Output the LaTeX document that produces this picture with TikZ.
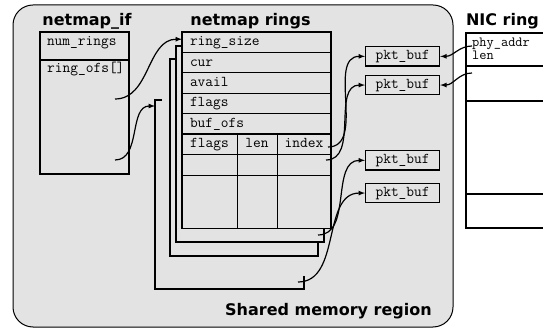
\documentclass[tikz,border=0pt]{standalone}
\usepackage{fontspec}
\newfontfamily\titlefont{DejaVu Sans}
\usepackage{xcolor}
\usepackage{tikz}
\usetikzlibrary{calc}
\usetikzlibrary{positioning}
\definecolor{shmgray}{HTML}{E3E3E3}

\begin{document}
\begin{tikzpicture}[x=1pt,y=-1pt]
		\tikzstyle{region} = [draw, line width=1pt, fill=shmgray, rounded corners=20pt, minimum width=440pt, minimum height=322pt, inner sep=0pt, outer sep=0pt]
		\tikzstyle{heading} = [font=\titlefont\bfseries\fontsize{16}{19}\selectfont, inner sep=0pt, anchor=base]
		\tikzstyle{ifbox} = [draw, line width=1.2pt, text width=75pt, inner xsep=7pt, inner ysep=0pt, outer sep=0pt, align=left, font=\ttfamily\fontsize{15}{17}\selectfont]
		\tikzstyle{field} = [draw, line width=1.2pt, minimum height=20.4pt, text width=133pt, inner xsep=8pt, inner ysep=0pt, outer sep=0pt, align=left, text height=10pt, text depth=3pt, font=\ttfamily\fontsize{15}{17}\selectfont]
		\tikzstyle{slot} = [draw, line width=0.7pt, inner sep=0pt, outer sep=0pt, text height=10pt, text depth=3pt, font=\ttfamily\fontsize{15}{17}\selectfont]
		\tikzstyle{ringback} = [draw, line width=1.2pt]
		\tikzstyle{pktbuf} = [draw, line width=1.2pt, minimum width=74pt, minimum height=19.5pt, inner sep=0pt, text height=10pt, text depth=3pt, font=\ttfamily\fontsize{15}{17}\selectfont]
		\tikzstyle{nicslot} = [draw, line width=1.2pt, minimum width=100pt, inner sep=0pt, outer sep=0pt]
		\tikzstyle{link} = [draw, line width=1.2pt, -latex]

		\useasboundingbox (0,0) rectangle (543,328);

		\node[region, anchor=north west] (Shared) at (13,5) {};
		\node[heading, anchor=base east] (SharedLabel) at (432,316) {Shared memory region};

		\node[heading] (IfTitle) at (87,26) {netmap\_if};
		\node[ifbox, minimum height=28pt, text height=7pt, text depth=8pt, anchor=north west] (NumRings) at (40,32) {num\_rings};
		\node[ifbox, minimum height=114pt, below=0pt of NumRings] (RingOfs) {};
		\node[anchor=base west, inner sep=0pt, font=\ttfamily\fontsize{15}{17}\selectfont] (RingOfsText) at ([xshift=7pt,yshift=-13pt]RingOfs.north west) {ring\_ofs[]};

		\draw[ringback] (162,100) -- (155,100) -- (155,289) -- (304,289) -- (304,276);
		\draw[ringback] (177,59) -- (170,59) -- (170,256) -- (318,256) -- (318,243);
		\draw[ringback] (183,46) -- (176,46) -- (176,242) -- (324,242) -- (324,229);

		\node[heading] (RingsTitle) at (250.5,26) {netmap rings};
		\node[field, anchor=north west] (RingSize) at (182,32) {ring\_size};
		\node[field, below=0pt of RingSize] (Cur) {cur};
		\node[field, below=0pt of Cur] (Avail) {avail};
		\node[field, below=0pt of Avail] (Flags) {flags};
		\node[field, below=0pt of Flags] (BufOfs) {buf\_ofs};

		\node[slot, minimum width=55pt, minimum height=20.4pt, below=0pt of BufOfs.south west, anchor=north west] (SlotFlags) {flags};
		\node[slot, minimum width=40pt, minimum height=20.4pt, right=0pt of SlotFlags] (SlotLen) {len};
		\node[slot, minimum width=54pt, minimum height=20.4pt, right=0pt of SlotLen] (SlotIndex) {index};
		\node[slot, minimum width=55pt, minimum height=21pt, below=0pt of SlotFlags] (SlotB1) {};
		\node[slot, minimum width=40pt, minimum height=21pt, below=0pt of SlotLen] (SlotB2) {};
		\node[slot, minimum width=54pt, minimum height=21pt, below=0pt of SlotIndex] (SlotB3) {};
		\node[slot, minimum width=55pt, minimum height=53pt, below=0pt of SlotB1] (SlotC1) {};
		\node[slot, minimum width=40pt, minimum height=53pt, below=0pt of SlotB2] (SlotC2) {};
		\node[slot, minimum width=54pt, minimum height=53pt, below=0pt of SlotB3] (SlotC3) {};
		\draw[line width=1.2pt] (RingSize.north west) rectangle (SlotC3.south east);
		\draw[line width=2pt] (BufOfs.south west) -- (BufOfs.south east);

		\node[pktbuf, anchor=north west] (PktBufA) at (365,46) {pkt\_buf};
		\node[pktbuf, below=8pt of PktBufA] (PktBufB) {pkt\_buf};
		\node[pktbuf, anchor=north west] (PktBufC) at (365,150) {pkt\_buf};
		\node[pktbuf, below=12pt of PktBufC] (PktBufD) {pkt\_buf};

		\node[heading] (NicTitle) at (502.5,26) {NIC ring};
		\node[nicslot, minimum height=33pt, anchor=north west] (NicSlotA) at (466,33) {};
		\node[nicslot, minimum height=35pt, below=0pt of NicSlotA] (NicSlotB) {};
		\node[nicslot, minimum height=93pt, below=0pt of NicSlotB] (NicSlotC) {};
		\node[nicslot, minimum height=34pt, below=0pt of NicSlotC] (NicSlotD) {};
		\node[anchor=north west, align=left, inner sep=0pt, font=\ttfamily\fontsize{14}{11}\selectfont] (NicFields) at (472,38) {phy\_addr\\len};

		\coordinate (OfsA) at (115,99);
		\coordinate (OfsB) at (115,160);
		\coordinate (RingD) at (155,106);
		\coordinate (IdxA) at (328,147);
		\coordinate (IdxB) at (326,160);
		\coordinate (IdxC) at (318,235);
		\coordinate (IdxD) at (298,282);
		\coordinate (NicAddr) at (472,46);
		\coordinate (NicEntry) at (472,73);

		\draw[link] (OfsA) to[out=0, in=180] ([yshift=3pt]RingSize.west);
		\draw[link] (OfsB) to[out=0, in=180] (RingD);
		\draw[link] (IdxA) to[out=0, in=180] (PktBufA.west);
		\draw[link] (IdxB) to[out=0, in=180] (PktBufB.west);
		\draw[link] (IdxC) to[out=0, in=180] (PktBufC.west);
		\draw[link] (IdxD) to[out=0, in=180] (PktBufD.west);
		\draw[link] (NicAddr) to[out=180, in=0] (PktBufA.east);
		\draw[link] (NicEntry) to[out=180, in=0] (PktBufB.east);

	\end{tikzpicture}
\end{document}
